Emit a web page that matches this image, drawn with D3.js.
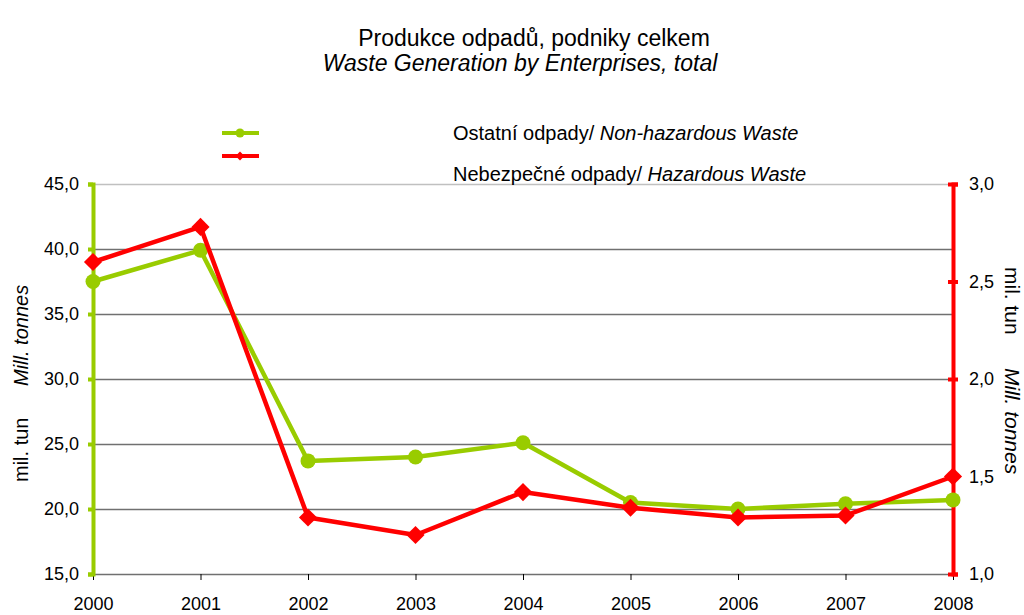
<!DOCTYPE html>
<html>
<head>
<meta charset="utf-8">
<script src="https://cdn.jsdelivr.net/npm/d3@7"></script>
<style>
  body { margin: 0; background: #fff; }
  svg text { font-family: "Liberation Sans", Arial, sans-serif; fill: #000; }
</style>
</head>
<body>
<div id="chart"></div>
<script>
// data
const years = [2000, 2001, 2002, 2003, 2004, 2005, 2006, 2007, 2008];
const nonHazardous = [37.5, 39.9, 23.7, 24.0, 25.1, 20.5, 20.0, 20.4, 20.7];
const hazardous = [2.60, 2.78, 1.29, 1.20, 1.42, 1.34, 1.29, 1.30, 1.50];
const leftTicks = [15, 20, 25, 30, 35, 40, 45];
const rightTicks = [1.0, 1.5, 2.0, 2.5, 3.0];

const W = 1024, H = 615;
const plot = { left: 93, right: 953, top: 184, bottom: 574 };
const GREEN = "#99cc00", RED = "#ff0000";
const FONT = "'Liberation Sans', Arial, sans-serif";

const svg = d3.select("#chart").append("svg")
    .attr("width", W).attr("height", H);

const x = d3.scalePoint().domain(years).range([plot.left, plot.right]);
const yL = d3.scaleLinear().domain([15, 45]).range([plot.bottom, plot.top]);
const yR = d3.scaleLinear().domain([1, 3]).range([plot.bottom, plot.top]);
const fmt = d => d.toFixed(1).replace(".", ",");

// title
svg.append("text").attr("x", 534).attr("y", 46).attr("text-anchor", "middle")
    .style("font-size", "23px").text("Produkce odpadů, podniky celkem");
svg.append("text").attr("x", 520).attr("y", 71).attr("text-anchor", "middle")
    .style("font-size", "23px").style("font-style", "italic")
    .text("Waste Generation by Enterprises, total");

// gridlines
svg.append("g").selectAll("line").data(leftTicks).join("line")
    .attr("x1", plot.left).attr("x2", plot.right)
    .attr("y1", d => yL(d) + 0.5).attr("y2", d => yL(d) + 0.5)
    .attr("stroke", d => d === 45 ? "#c0c0c0" : "#707070")
    .attr("stroke-width", 1.5);

// x axis
const xAxis = svg.append("g")
    .attr("transform", `translate(0,${plot.bottom})`)
    .call(d3.axisBottom(x).tickSize(6).tickPadding(17));
xAxis.select(".domain").remove();
xAxis.selectAll(".tick line").attr("stroke", "#000");
xAxis.selectAll("text").style("font-size", "18px").style("font-family", FONT);

// left axis
const lAxis = svg.append("g")
    .attr("transform", `translate(${plot.left},0)`)
    .call(d3.axisLeft(yL).tickValues(leftTicks).tickFormat(fmt).tickSize(5).tickPadding(9));
lAxis.select(".domain").attr("stroke", GREEN).attr("stroke-width", 4);
lAxis.selectAll(".tick line").attr("stroke", GREEN).attr("stroke-width", 4);
lAxis.selectAll("text").style("font-size", "18px").style("font-family", FONT);

// right axis
const rAxis = svg.append("g")
    .attr("transform", `translate(${plot.right},0)`)
    .call(d3.axisRight(yR).tickValues(rightTicks).tickFormat(fmt).tickSize(5).tickPadding(11));
rAxis.select(".domain").attr("stroke", RED).attr("stroke-width", 4);
rAxis.selectAll(".tick line").attr("x1", -5).attr("stroke", RED).attr("stroke-width", 4);
rAxis.selectAll("text").style("font-size", "18px").style("font-family", FONT);

// axis titles
svg.append("text").attr("transform", "translate(28,482) rotate(-90)")
    .style("font-size", "20px").text("mil. tun");
svg.append("text").attr("transform", "translate(28,386) rotate(-90)")
    .style("font-size", "20px").style("font-style", "italic").text("Mill. tonnes");

svg.append("text").attr("transform", "translate(1005,267) rotate(90)")
    .style("font-size", "21px").text("mil. tun");
svg.append("text").attr("transform", "translate(1005,368) rotate(90)")
    .style("font-size", "21px").style("font-style", "italic").text("Mill. tonnes");

// series
const diamond = d3.symbol().type(d3.symbolDiamond2).size(210);

svg.append("path").datum(nonHazardous)
    .attr("fill", "none").attr("stroke", GREEN).attr("stroke-width", 4.5)
    .attr("stroke-linejoin", "round")
    .attr("d", d3.line().x((d, i) => x(years[i])).y(d => yL(d)));
svg.append("g").selectAll("circle").data(nonHazardous).join("circle")
    .attr("cx", (d, i) => x(years[i])).attr("cy", d => yL(d))
    .attr("r", 7.5).attr("fill", GREEN);

svg.append("path").datum(hazardous)
    .attr("fill", "none").attr("stroke", RED).attr("stroke-width", 4.5)
    .attr("stroke-linejoin", "round")
    .attr("d", d3.line().x((d, i) => x(years[i])).y(d => yR(d)));
svg.append("g").selectAll("path").data(hazardous).join("path")
    .attr("transform", (d, i) => `translate(${x(years[i])},${yR(d)})`)
    .attr("d", diamond).attr("fill", RED);

// legend
const legend = svg.append("g");
[[GREEN, 133, "Ostatní odpady/ ", "Non-hazardous Waste", "circle", 140],
 [RED, 156, "Nebezpečné odpady/ ", "Hazardous Waste", "diamond", 181]].forEach(l => {
    legend.append("line").attr("x1", 222).attr("x2", 259)
        .attr("y1", l[1]).attr("y2", l[1])
        .attr("stroke", l[0]).attr("stroke-width", 4);
    if (l[4] === "circle") {
        legend.append("circle").attr("cx", 240).attr("cy", l[1]).attr("r", 4.5).attr("fill", l[0]);
    } else {
        legend.append("path").attr("transform", `translate(240,${l[1]})`)
            .attr("d", d3.symbol().type(d3.symbolDiamond2).size(50)).attr("fill", l[0]);
    }
    const t = legend.append("text").attr("x", 453).attr("y", l[5])
        .style("font-size", "20px");
    t.append("tspan").text(l[2]);
    t.append("tspan").style("font-style", "italic").text(l[3]);
});
</script>
</body>
</html>
